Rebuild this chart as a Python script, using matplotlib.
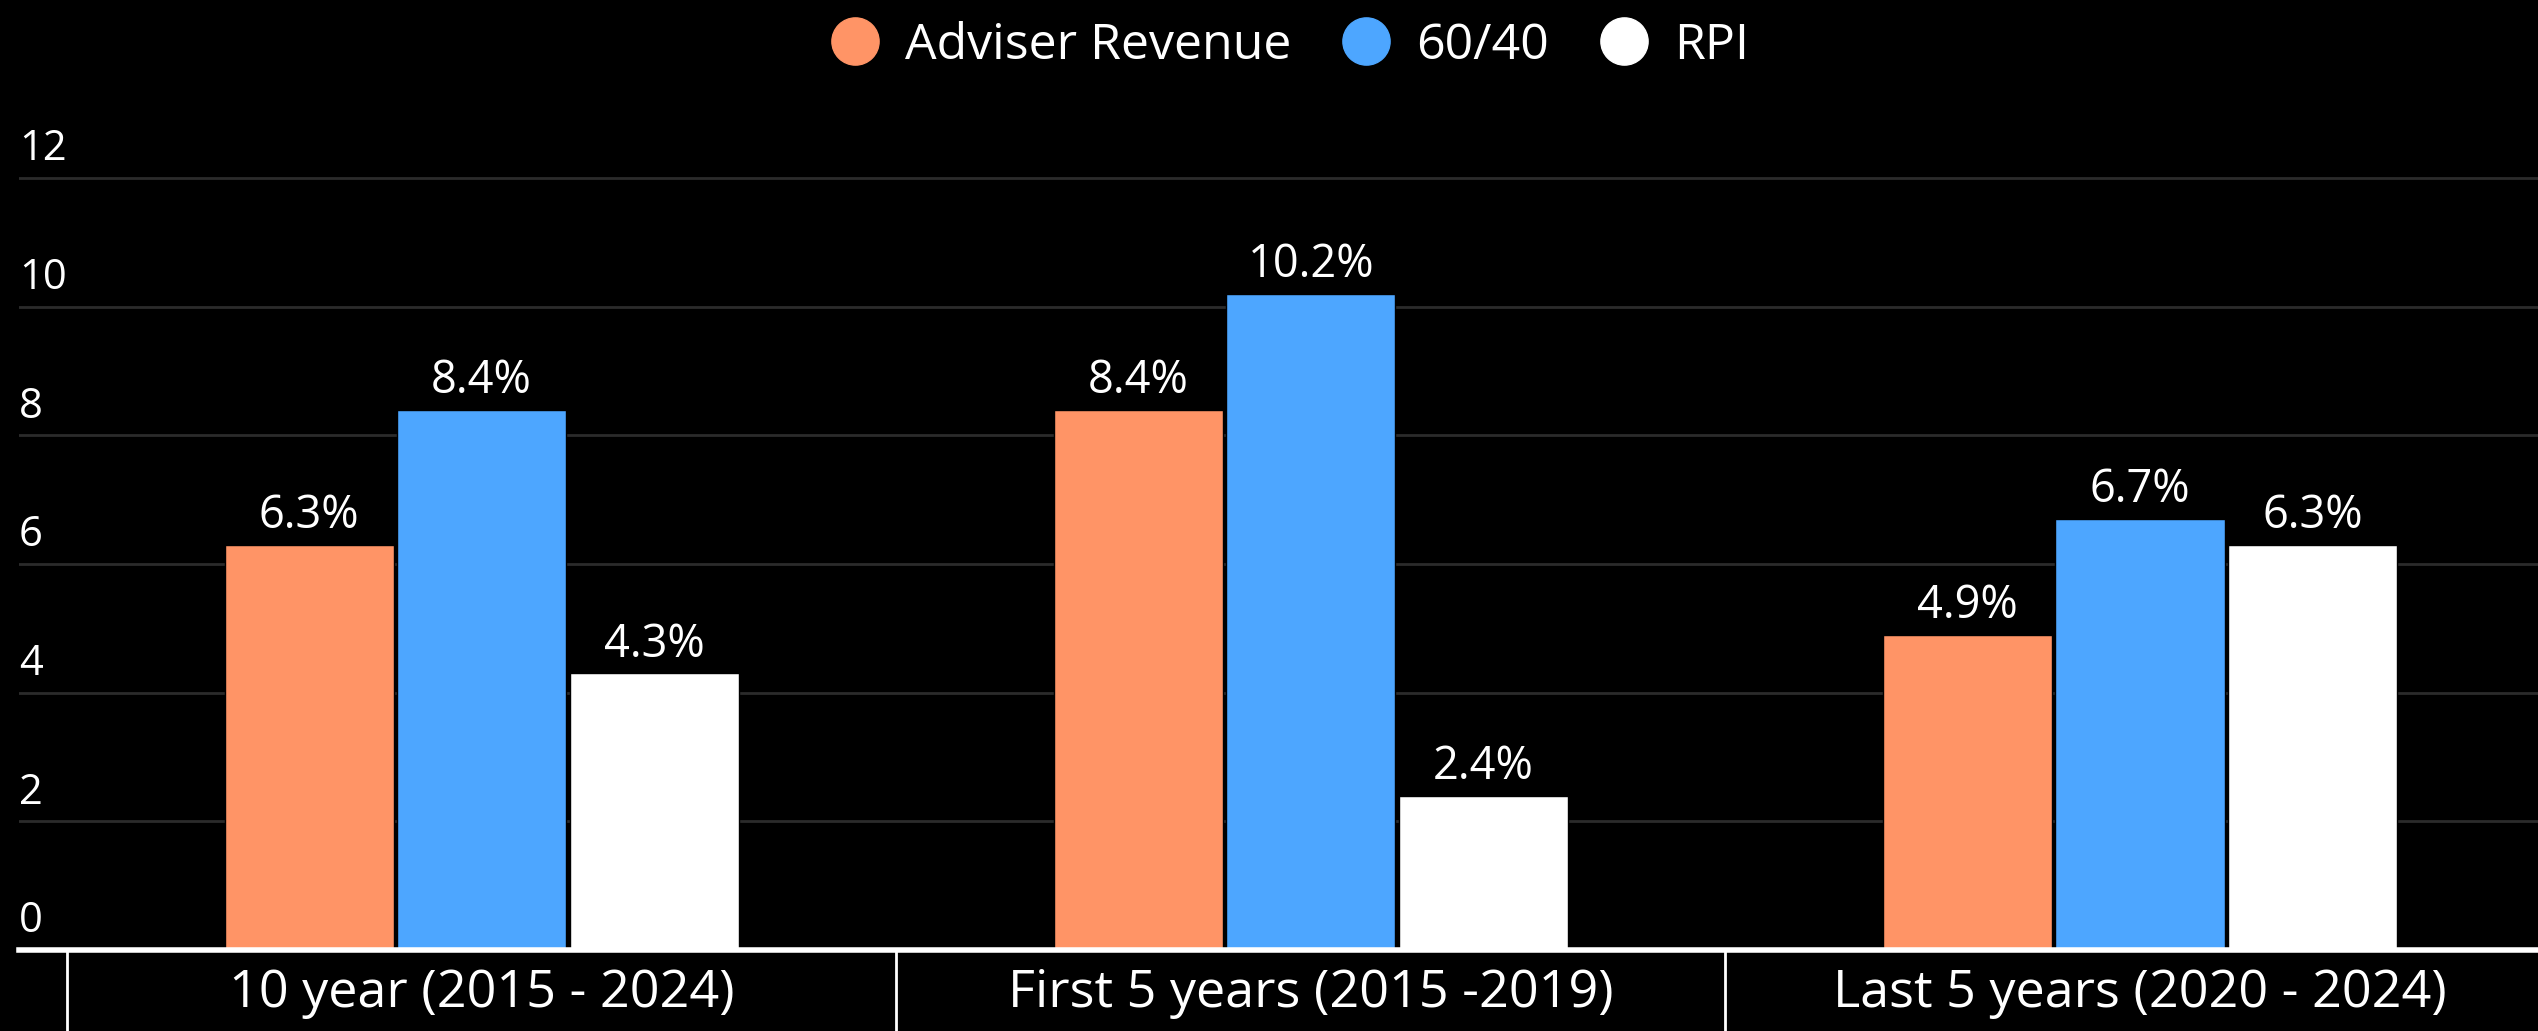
import matplotlib.pyplot as plt
from matplotlib.lines import Line2D
import numpy as np

plt.rcParams['font.family'] = ['Open Sans', 'DejaVu Sans']

periods = ['10 year (2015 - 2024)', 'First 5 years (2015 -2019)', 'Last 5 years (2020 - 2024)']
series_names = ['Adviser Revenue', '60/40', 'RPI']
adviser_revenue = [6.3, 8.4, 4.9]
sixty_forty = [8.4, 10.2, 6.7]
rpi = [4.3, 2.4, 6.3]
y_ticks = [0, 2, 4, 6, 8, 10, 12]

colors = ['#ff9466', '#4da6ff', '#ffffff']
W, H = 2538, 1031


def main():
    fig = plt.figure(figsize=(W / 100, H / 100), dpi=100, facecolor='black')
    # axes box in pixels: left 19, baseline at y=950, 12 at y=178
    ppu = (950 - 178) / 12
    top = 950 - 12.4 * ppu
    ax = fig.add_axes([19 / W, (H - 950) / H, (W - 19) / W, (950 - top) / H])
    ax.set_facecolor('black')

    x = np.arange(len(periods))
    width = 0.204
    offset = 0.208
    for i, vals in enumerate([adviser_revenue, sixty_forty, rpi]):
        bars = ax.bar(x + (i - 1) * offset, vals, width, color=colors[i],
                      edgecolor='black', linewidth=1, zorder=3)
        for b, v in zip(bars, vals):
            ax.annotate(f'{v}%', (b.get_x() + b.get_width() / 2, v),
                        xytext=(0, 4), textcoords='offset points',
                        ha='center', va='bottom', color='white', fontsize=32.5)

    ax.set_xlim(-0.558, 2.48)
    ax.set_ylim(0, 12.4)

    # grid + y labels sitting above lines
    for t in y_ticks[1:]:
        ax.axhline(t, color='#2b2b2b', linewidth=2, zorder=1)
    trans = ax.get_yaxis_transform()
    for t in y_ticks:
        ax.text(0, t + 0.12, str(t), transform=trans, ha='left', va='bottom',
                color='white', fontsize=30)
    ax.set_yticks([])

    for s in ax.spines.values():
        s.set_visible(False)
    ax.axhline(0, color='white', linewidth=4, zorder=4, clip_on=False)

    # category separators below the baseline
    ax.vlines([-0.5, 0.5, 1.5], -0.2, 0, transform=ax.get_xaxis_transform(),
              color='white', linewidth=2, clip_on=False)

    ax.set_xticks(x)
    ax.set_xticklabels(periods, color='white', fontsize=37.5)
    ax.tick_params(axis='x', length=0, pad=13)

    handles = [Line2D([], [], marker='o', linestyle='', markersize=34,
                      markerfacecolor=c, markeredgecolor=c) for c in colors]
    fig.legend(handles, series_names, loc='center', bbox_to_anchor=(0.508, 1 - 46 / H),
               ncol=3, frameon=False, fontsize=36, labelcolor='white',
               handlelength=1.0, handletextpad=0.5, columnspacing=1.0)

    fig.savefig('out.png', dpi=100, facecolor='black')


if __name__ == '__main__':
    main()
